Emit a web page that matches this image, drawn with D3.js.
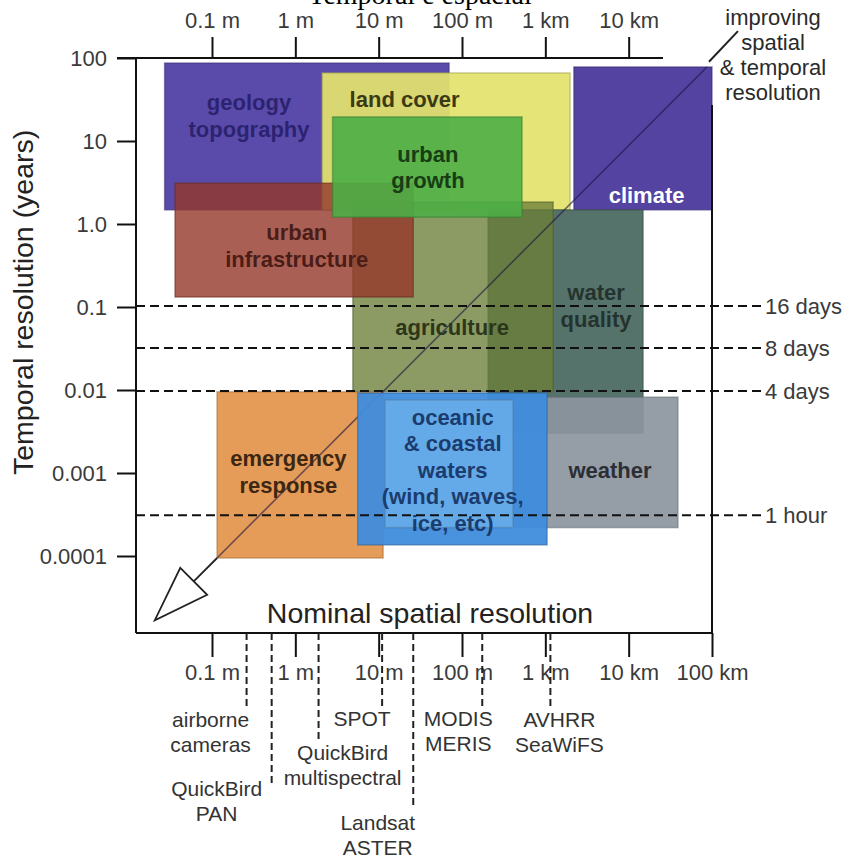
<!DOCTYPE html>
<html>
<head>
<meta charset="utf-8">
<script src="https://cdn.jsdelivr.net/npm/d3@7"></script>
<style>
  html, body { margin: 0; padding: 0; background: #fff; }
  svg { display: block; }
  text { font-family: "Liberation Sans", Arial, Helvetica, sans-serif; }
</style>
</head>
<body>
<svg id="chart" width="846" height="860"></svg>
<script>
// ---- spatial axis (metres) ----
const spatialTicks = [0.1, 1, 10, 100, 1000, 10000, 100000];
const spatialTickLabels = ["0.1 m", "1 m", "10 m", "100 m", "1 km", "10 km", "100 km"];

// ---- temporal axis (years) ----
const temporalTicks = [100, 10, 1, 0.1, 0.01, 0.001, 0.0001];
const temporalTickLabels = ["100", "10", "1.0", "0.1", "0.01", "0.001", "0.0001"];

// ---- revisit reference lines (years) ----
const revisitLabels = ["16 days", "8 days", "4 days", "1 hour"];
const revisitYears = [0.103, 0.032, 0.0097, 0.00031];

// ---- application domains, in drawing order ----
const appIds = ["geology", "landcover", "climate", "water", "agriculture",
                "infrastructure", "growth", "emergency", "weather", "oceanic", "coastal"];
const appLabels = [["geology", "topography"], ["land cover"], ["climate"], ["water", "quality"],
                   ["agriculture"], ["urban", "infrastructure"], ["urban", "growth"],
                   ["emergency", "response"], ["weather"],
                   ["oceanic", "& coastal", "waters", "(wind, waves,", "ice, etc)"], []];
const appMinRes = [0.027, 2.1, 2200, 205, 4.9, 0.036, 2.8, 0.115, 410, 5.6, 11.9];        // m
const appMaxRes = [70, 1980, 100000, 14900, 1240, 26, 525, 11.3, 39000, 1050, 410];       // m
const appMinRevisit = [1.48, 1.48, 1.48, 0.0030, 0.0095, 0.132, 1.21, 0.0000946, 0.00022, 0.000136, 0.00022]; // yr
const appMaxRevisit = [87, 66, 78, 1.48, 1.84, 3.1, 19.5, 0.0095, 0.0082, 0.0092, 0.0076];                    // yr

// ---- sensors and their nominal resolution (m) ----
const sensorNames = [["airborne", "cameras"], ["QuickBird", "PAN"], ["QuickBird", "multispectral"],
                     ["SPOT"], ["Landsat", "ASTER"], ["MODIS", "MERIS"], ["AVHRR", "SeaWiFS"]];
const sensorRes = [0.26, 0.52, 1.9, 11, 26, 175, 1150];

// ---- improving-resolution trend (m, years) ----
const trendStart = [0.115, 0.0000946];
const trendEnd = [87000, 78];
const leaderLine = [[92000, 90], [205000, 211]];

// ================= drawing =================
const svg = d3.select("#chart");
const x = d3.scaleLog().domain([0.1, 1e5]).range([212, 712]);
const y = d3.scaleLog().domain([1e-4, 100]).range([556, 58]);

const frame = { left: 136, right: 712, top: 58, bottom: 633 };
const ink = "#111";
const tickText = "#3a3a3a";

// caption line running off the top edge
svg.append("text")
  .attr("x", 420).attr("y", 4)
  .attr("text-anchor", "middle")
  .style("font-family", "'Liberation Serif', 'Times New Roman', serif")
  .style("font-size", "28px").attr("fill", "#000")
  .text("Temporal e espacial");

// styling per domain
const style = {
  geology:        { fill: "#5141a6", op: 0.95, text: "#2c2370" },
  landcover:      { fill: "#e3e36b", op: 0.92, text: "#3b3a14" },
  climate:        { fill: "#4e3b9e", op: 0.96, text: "#ffffff" },
  water:          { fill: "#4d6b63", op: 0.95, text: "#24332d" },
  agriculture:    { fill: "#6c7f38", op: 0.78, text: "#2c361a" },
  infrastructure: { fill: "#95372a", op: 0.80, text: "#4a1d16" },
  growth:         { fill: "#4cae46", op: 0.90, text: "#173d14" },
  emergency:      { fill: "#e3974f", op: 0.95, text: "#3d2712" },
  weather:        { fill: "#8c959f", op: 0.92, text: "#2b2f35" },
  oceanic:        { fill: "#3f8cdc", op: 0.95, text: "#1b3c6e" },
  coastal:        { fill: "#6aaeea", op: 0.85, text: "#1b3c6e" }
};
// label anchor for each domain (m, years)
const labelAnchor = {
  geology: [0.278, 20.3], landcover: [20.5, 32], climate: [16400, 2.23],
  water: [4060, 0.104], agriculture: [76, 0.0574], infrastructure: [1.04, 0.551],
  growth: [39, 4.86], emergency: [0.824, 0.00104], weather: [5970, 0.00109],
  oceanic: [77.3, 0.00109]
};

const apps = appIds.map((id, i) => ({
  id, lines: appLabels[i],
  x0: appMinRes[i], x1: appMaxRes[i], y0: appMinRevisit[i], y1: appMaxRevisit[i]
}));

const boxLayer = svg.append("g");
function drawBox(d) {
  const s = style[d.id];
  boxLayer.append("rect")
    .attr("x", x(d.x0)).attr("y", y(d.y1))
    .attr("width", x(d.x1) - x(d.x0)).attr("height", y(d.y0) - y(d.y1))
    .attr("fill", s.fill).attr("fill-opacity", s.op)
    .attr("stroke", d3.color(s.fill).darker(0.9)).attr("stroke-opacity", 0.55)
    .attr("stroke-width", 1.5);
}
const onTop = ["weather", "oceanic", "coastal"];
apps.filter(d => onTop.indexOf(d.id) < 0).forEach(drawBox);

// diagonal trend line
boxLayer.append("line")
  .attr("x1", x(trendStart[0])).attr("y1", y(trendStart[1]))
  .attr("x2", x(trendEnd[0])).attr("y2", y(trendEnd[1]))
  .attr("stroke", "#1a1440").attr("stroke-opacity", 0.6).attr("stroke-width", 1.6);

apps.filter(d => onTop.indexOf(d.id) >= 0).forEach(drawBox);

// open arrow head at the lower-left end of the trend
(function () {
  const px = x(trendStart[0]), py = y(trendStart[1]);
  const u = [-Math.SQRT1_2, Math.SQRT1_2], p = [Math.SQRT1_2, Math.SQRT1_2];
  const bm = [px + u[0] * 33, py + u[1] * 33];
  const tip = [px + u[0] * 88, py + u[1] * 88];
  const hw = 19;
  svg.append("line")
    .attr("x1", px).attr("y1", py).attr("x2", bm[0]).attr("y2", bm[1])
    .attr("stroke", "#222").attr("stroke-width", 1.8);
  svg.append("path")
    .attr("d", d3.line()([[bm[0] - p[0] * hw, bm[1] - p[1] * hw], [bm[0] + p[0] * hw, bm[1] + p[1] * hw], tip]) + "Z")
    .attr("fill", "#fff").attr("stroke", "#222").attr("stroke-width", 1.8)
    .attr("stroke-linejoin", "miter");
})();

// leader to the annotation
svg.append("line")
  .attr("x1", x(leaderLine[0][0])).attr("y1", y(leaderLine[0][1]))
  .attr("x2", x(leaderLine[1][0])).attr("y2", y(leaderLine[1][1]))
  .attr("stroke", "#222").attr("stroke-width", 2);

// domain labels
apps.forEach(d => {
  if (!d.lines.length) return;
  const s = style[d.id];
  const a = labelAnchor[d.id];
  const cx = x(a[0]), cy = y(a[1]);
  const lh = 26.5, n = d.lines.length;
  const t = svg.append("text")
    .attr("text-anchor", "middle")
    .style("font-size", "22px").style("font-weight", "bold")
    .attr("fill", s.text);
  d.lines.forEach((ln, k) => {
    t.append("tspan").attr("x", cx)
      .attr("y", cy - (n - 1) * lh / 2 + k * lh + 8)
      .text(ln);
  });
});

// revisit reference lines
revisitYears.forEach((v, i) => {
  svg.append("line")
    .attr("x1", frame.left).attr("x2", 762)
    .attr("y1", y(v)).attr("y2", y(v))
    .attr("stroke", ink).attr("stroke-width", 2)
    .attr("stroke-dasharray", "9,5");
  svg.append("text")
    .attr("x", 765).attr("y", y(v)).attr("dy", "0.35em")
    .style("font-size", "22px").attr("fill", tickText)
    .text(revisitLabels[i]);
});

// frame lines
svg.append("line").attr("x1", 117).attr("x2", 663).attr("y1", frame.top).attr("y2", frame.top)
  .attr("stroke", ink).attr("stroke-width", 2);
svg.append("line").attr("x1", frame.left).attr("x2", frame.left).attr("y1", frame.top).attr("y2", frame.bottom)
  .attr("stroke", ink).attr("stroke-width", 2);
svg.append("line").attr("x1", frame.left).attr("x2", frame.right).attr("y1", frame.bottom).attr("y2", frame.bottom)
  .attr("stroke", ink).attr("stroke-width", 2);
svg.append("line").attr("x1", frame.right).attr("x2", frame.right).attr("y1", 105).attr("y2", frame.bottom)
  .attr("stroke", ink).attr("stroke-width", 2);

// axes
function styleAxis(g) {
  g.select(".domain").remove();
  g.selectAll(".tick line").attr("stroke", ink).attr("stroke-width", 2);
  g.selectAll(".tick text").attr("fill", tickText)
    .style("font-size", "22px").style("font-family", "'Liberation Sans', Arial, sans-serif");
}
svg.append("g").attr("transform", `translate(0,${frame.top})`)
  .call(d3.axisTop(x).tickValues(spatialTicks.slice(0, 6))
    .tickFormat((d, i) => spatialTickLabels[i]).tickSizeInner(21).tickSizeOuter(0).tickPadding(9))
  .call(styleAxis);
svg.append("g").attr("transform", `translate(0,${frame.bottom})`)
  .call(d3.axisBottom(x).tickValues(spatialTicks)
    .tickFormat((d, i) => spatialTickLabels[i]).tickSizeInner(24).tickSizeOuter(0).tickPadding(7))
  .call(styleAxis);
svg.append("g").attr("transform", `translate(${frame.left},0)`)
  .call(d3.axisLeft(y).tickValues(temporalTicks)
    .tickFormat((d, i) => temporalTickLabels[i]).tickSizeInner(19).tickSizeOuter(0).tickPadding(10))
  .call(styleAxis);

// axis titles
svg.append("text")
  .attr("x", 430).attr("y", 623).attr("text-anchor", "middle")
  .style("font-size", "28.5px").attr("fill", "#222")
  .text("Nominal spatial resolution");
svg.append("text")
  .attr("transform", "translate(33,475) rotate(-90)")
  .style("font-size", "28.5px").attr("fill", "#222")
  .text("Temporal resolution (years)");

// annotation, top right
const note = svg.append("text").attr("text-anchor", "middle")
  .style("font-size", "22px").attr("fill", "#2a2a2a");
["improving", "spatial", "& temporal", "resolution"].forEach((t, k) => {
  note.append("tspan").attr("x", 773).attr("y", 25 + k * 25).text(t);
});

// sensors below the spatial axis
const sensorLayout = [
  { end: 707, dx: -36, base: 727 },
  { end: 785, dx: -55, base: 796 },
  { end: 743, dx: 24, base: 760 },
  { end: 708, dx: -20, base: 726 },
  { end: 808, dx: -35.5, base: 830 },
  { end: 708, dx: -24, base: 726 },
  { end: 708, dx: 9, base: 727 }
];
sensorRes.forEach((r, i) => {
  const sx = x(r), L = sensorLayout[i];
  svg.append("line")
    .attr("x1", sx).attr("x2", sx).attr("y1", frame.bottom).attr("y2", L.end)
    .attr("stroke", "#222").attr("stroke-width", 2).attr("stroke-dasharray", "7,4");
  const t = svg.append("text").attr("text-anchor", "middle")
    .style("font-size", "21px").attr("fill", "#333");
  sensorNames[i].forEach((ln, k) => {
    t.append("tspan").attr("x", sx + L.dx).attr("y", L.base + k * 25).text(ln);
  });
});
</script>
</body>
</html>
